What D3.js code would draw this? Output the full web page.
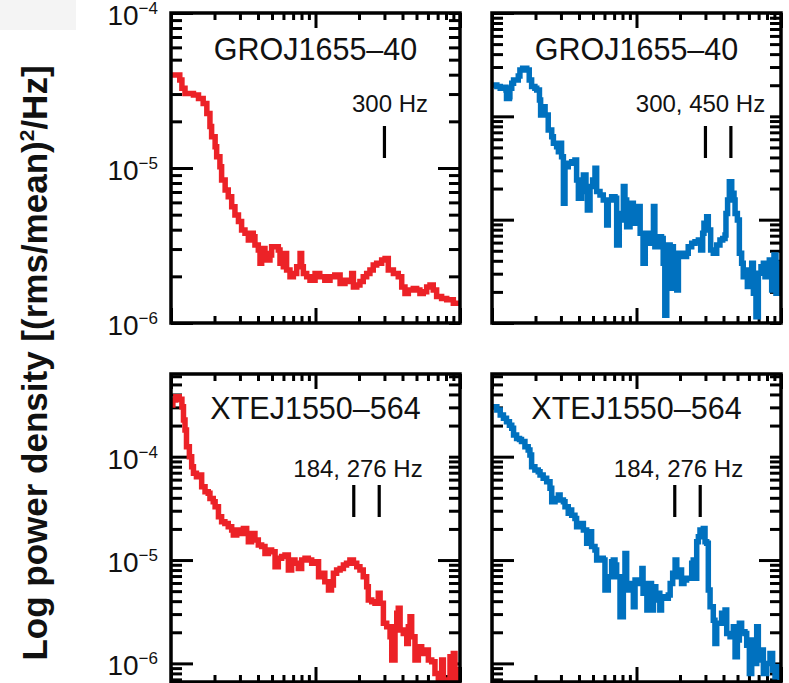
<!DOCTYPE html>
<html>
<head>
<meta charset="utf-8">
<script src="https://cdn.jsdelivr.net/npm/d3@7"></script>
<style>
  html, body { margin: 0; padding: 0; background: #fff; }
  svg { display: block; }
  text { font-family: "Liberation Sans", Arial, Helvetica, sans-serif; fill: #111; }
</style>
</head>
<body>
<svg id="fig" width="789" height="683"></svg>
<script>
// Power density spectra: frequency (Hz) and power density ((rms/mean)^2/Hz)

// GRO J1655-40, softer state (red)
const groRedFreq = [10.0, 11.5, 11.9, 12.5, 14.3, 15.5, 16.7, 17.7, 18.6, 19.1, 20.2, 20.7, 21.8, 22.4, 23.7, 24.9, 26.3, 27.7, 29.3, 30.8, 32.5, 34.3, 35.2, 37.1, 38.1, 40.2, 41.3, 42.4, 44.7, 45.9, 48.4, 49.7, 52.5, 55.3, 56.8, 59.9, 61.5, 63.1, 66.6, 70.3, 74.1, 78.2, 80.2, 82.4, 86.9, 91.6, 99.3, 107, 116, 126, 136, 148, 160, 169, 178, 183, 193, 203, 214, 226, 238, 251, 265, 287, 303, 319, 346, 374, 395, 416, 439, 475, 501, 528, 557, 588, 620, 653, 689, 746, 809, 899, 1000];
const groRedPower = [3.98e-5, 3.70e-5, 3.27e-5, 3.03e-5, 2.96e-5, 2.81e-5, 2.61e-5, 2.25e-5, 1.85e-5, 1.59e-5, 1.37e-5, 1.18e-5, 1.02e-5, 8.37e-6, 7.22e-6, 6.53e-6, 5.63e-6, 4.98e-6, 4.51e-6, 3.98e-6, 3.79e-6, 3.43e-6, 3.79e-6, 3.60e-6, 3.18e-6, 2.96e-6, 2.43e-6, 3.03e-6, 2.81e-6, 2.55e-6, 2.75e-6, 3.10e-6, 3.10e-6, 2.96e-6, 2.43e-6, 2.31e-6, 2.81e-6, 2.20e-6, 1.99e-6, 2.09e-6, 2.31e-6, 2.81e-6, 2.31e-6, 2.09e-6, 1.99e-6, 1.89e-6, 2.09e-6, 1.99e-6, 1.89e-6, 1.99e-6, 2.04e-6, 1.80e-6, 1.89e-6, 1.85e-6, 2.09e-6, 1.71e-6, 1.76e-6, 1.85e-6, 1.99e-6, 2.09e-6, 2.20e-6, 2.37e-6, 2.43e-6, 2.55e-6, 2.61e-6, 2.20e-6, 2.09e-6, 1.99e-6, 1.71e-6, 1.55e-6, 1.63e-6, 1.67e-6, 1.63e-6, 1.55e-6, 1.59e-6, 1.71e-6, 1.76e-6, 1.63e-6, 1.48e-6, 1.44e-6, 1.41e-6, 1.34e-6, 1.34e-6];

// GRO J1655-40, harder state (blue)
const groBlueFreq = [10.0, 10.8, 11.4, 12.0, 12.5, 12.6, 13.2, 13.3, 13.7, 14.1, 14.8, 15.2, 15.6, 16.3, 17.4, 18.1, 18.8, 19.8, 20.4, 21.3, 21.7, 22.6, 23.3, 24.5, 25.9, 26.6, 28.0, 28.8, 29.6, 30.3, 31.2, 32.0, 33.7, 35.6, 37.5, 38.5, 39.6, 41.7, 42.9, 44.7, 45.7, 47.7, 49.7, 51.6, 53.0, 55.9, 58.9, 62.2, 63.8, 67.3, 71.0, 72.9, 76.0, 78.9, 81.1, 83.2, 85.5, 90.2, 95.1, 97.7, 100.3, 106, 111, 115, 121, 127, 131, 134, 142, 149, 153, 157, 162, 171, 175, 180, 190, 195, 200, 211, 222, 228, 241, 254, 268, 278, 287, 293, 306, 314, 326, 340, 359, 378, 395, 410, 416, 427, 439, 456, 473, 481, 499, 515, 534, 548, 570, 585, 610, 627, 644, 671, 697, 727, 755, 775, 796, 830, 862, 894, 923, 958, 985];
const groBluePower = [2.01e-4, 1.94e-4, 1.87e-4, 1.91e-4, 1.80e-4, 1.49e-4, 1.55e-4, 1.87e-4, 2.09e-4, 2.25e-4, 2.25e-4, 2.46e-4, 2.81e-4, 2.92e-4, 2.81e-4, 2.25e-4, 1.94e-4, 1.87e-4, 1.80e-4, 1.44e-4, 1.03e-4, 1.24e-4, 1.03e-4, 7.38e-5, 6.36e-5, 5.48e-5, 5.09e-5, 4.55e-5, 5.48e-5, 4.07e-5, 1.44e-5, 3.26e-5, 3.51e-5, 3.64e-5, 3.78e-5, 2.42e-5, 1.61e-5, 1.87e-5, 2.71e-5, 2.09e-5, 1.24e-5, 2.09e-5, 2.42e-5, 3.14e-5, 1.87e-5, 1.73e-5, 1.55e-5, 8.88e-6, 1.55e-5, 1.67e-5, 1.61e-5, 5.69e-6, 9.93e-6, 1.15e-5, 2.09e-5, 1.55e-5, 8.55e-6, 1.44e-5, 1.15e-5, 9.22e-6, 1.34e-5, 7.38e-6, 3.78e-6, 7.38e-6, 5.90e-6, 6.35e-6, 1.34e-5, 5.48e-6, 6.84e-6, 6.59e-6, 3.78e-6, 1.19e-6, 5.69e-6, 2.17e-6, 5.48e-6, 2.42e-6, 2.09e-6, 4.72e-6, 4.72e-6, 4.39e-6, 4.72e-6, 5.48e-6, 5.90e-6, 6.12e-6, 6.35e-6, 5.08e-6, 7.38e-6, 9.22e-6, 1.07e-5, 7.94e-6, 5.08e-6, 4.72e-6, 5.69e-6, 6.35e-6, 6.59e-6, 7.11e-6, 1.15e-5, 1.55e-5, 2.33e-5, 1.80e-5, 1.55e-5, 1.15e-5, 9.93e-6, 4.72e-6, 3.78e-6, 2.81e-6, 3.26e-6, 2.25e-6, 2.81e-6, 3.78e-6, 1.94e-6, 1.15e-6, 3.03e-6, 3.51e-6, 3.78e-6, 2.81e-6, 3.51e-6, 4.07e-6, 2.09e-6, 4.55e-6, 1.94e-6, 3.78e-6, 3.51e-6];

// XTE J1550-564, softer state (red)
const xteRedFreq = [10.0, 10.3, 10.8, 11.4, 11.9, 12.2, 12.5, 12.8, 13.4, 13.9, 14.3, 15.0, 15.7, 16.3, 17.2, 18.1, 18.6, 19.6, 20.2, 21.3, 22.4, 23.6, 24.9, 26.3, 27.0, 28.5, 30.0, 31.7, 33.4, 34.3, 36.1, 38.1, 40.2, 42.4, 44.7, 47.2, 49.7, 52.5, 55.3, 58.3, 61.5, 64.9, 68.4, 72.1, 76.0, 80.2, 84.6, 89.2, 94.1, 99.2, 105, 110, 116, 123, 129, 133, 140, 148, 156, 164, 173, 183, 193, 203, 214, 226, 232, 245, 258, 272, 280, 295, 311, 328, 337, 355, 365, 374, 385, 405, 428, 439, 451, 463, 488, 515, 543, 573, 604, 637, 671, 708, 747, 767, 800, 853, 899, 923, 958, 1000];
const xteRedPower = [3.16e-4, 3.53e-4, 3.81e-4, 3.59e-4, 3.05e-4, 2.26e-4, 1.81e-4, 1.25e-4, 1.00e-4, 8.00e-5, 6.90e-5, 6.40e-5, 6.65e-5, 5.13e-5, 4.58e-5, 4.42e-5, 3.95e-5, 3.67e-5, 3.28e-5, 2.63e-5, 2.35e-5, 2.26e-5, 2.10e-5, 1.95e-5, 1.75e-5, 1.95e-5, 1.81e-5, 2.02e-5, 1.81e-5, 1.50e-5, 1.81e-5, 1.56e-5, 1.40e-5, 1.35e-5, 1.16e-5, 1.25e-5, 1.20e-5, 8.62e-6, 1.04e-5, 1.08e-5, 1.12e-5, 8.00e-6, 1.00e-5, 9.29e-6, 8.30e-6, 1.00e-5, 1.04e-5, 1.00e-5, 9.29e-6, 9.63e-6, 6.90e-6, 7.43e-6, 6.17e-6, 5.13e-6, 5.73e-6, 7.43e-6, 8.00e-6, 8.30e-6, 8.95e-6, 9.29e-6, 1.00e-5, 9.29e-6, 8.62e-6, 8.00e-6, 6.90e-6, 5.52e-6, 4.10e-6, 3.95e-6, 3.81e-6, 4.76e-6, 3.81e-6, 2.44e-6, 2.26e-6, 1.81e-6, 1.08e-6, 2.26e-6, 3.05e-6, 3.41e-6, 2.10e-6, 1.95e-6, 1.56e-6, 2.26e-6, 2.83e-6, 1.81e-6, 1.08e-6, 1.45e-6, 1.25e-6, 1.35e-6, 1.08e-6, 1.04e-6, 8.00e-7, 6.90e-7, 1.08e-6, 6.90e-7, 5.1e-7, 1.16e-6, 1.25e-6, 5.1e-7, 8.62e-7, 5.1e-7];

// XTE J1550-564, harder state (blue)
const xteBlueFreq = [10.0, 10.8, 11.4, 12.0, 12.6, 13.2, 13.7, 14.1, 14.8, 15.5, 16.0, 16.9, 17.8, 18.3, 18.8, 19.8, 20.9, 21.5, 22.6, 23.9, 25.2, 25.9, 27.3, 28.8, 29.6, 31.2, 32.0, 33.7, 34.7, 35.6, 37.5, 38.5, 40.6, 42.9, 45.2, 47.7, 48.9, 51.6, 53.0, 55.9, 58.9, 60.5, 63.8, 67.3, 69.1, 71.0, 72.9, 76.9, 81.1, 83.2, 85.5, 90.2, 95.1, 97.7, 103, 109, 111, 118, 121, 127, 131, 136, 142, 145, 149, 157, 166, 171, 178, 185, 190, 200, 205, 213, 222, 234, 241, 247, 254, 261, 268, 275, 290, 298, 306, 314, 323, 340, 349, 359, 378, 388, 410, 421, 444, 468, 481, 499, 515, 534, 563, 579, 604, 627, 650, 679, 697, 723, 755, 796, 839, 875, 909, 943, 985];
const xteBluePower = [3.05e-4, 2.83e-4, 2.53e-4, 2.35e-4, 2.18e-4, 2.02e-4, 1.88e-4, 1.62e-4, 1.50e-4, 1.47e-4, 1.40e-4, 1.25e-4, 1.16e-4, 1.04e-4, 8.00e-5, 7.43e-5, 7.16e-5, 6.65e-5, 6.17e-5, 5.73e-5, 4.94e-5, 3.67e-5, 3.95e-5, 4.26e-5, 3.81e-5, 3.67e-5, 3.28e-5, 2.83e-5, 3.05e-5, 2.72e-5, 2.53e-5, 2.10e-5, 2.26e-5, 1.95e-5, 1.45e-5, 1.88e-5, 1.35e-5, 1.25e-5, 1.00e-5, 1.04e-5, 1.00e-5, 5.13e-6, 6.90e-6, 9.63e-6, 1.00e-5, 8.95e-6, 6.90e-6, 2.83e-6, 5.52e-6, 1.16e-5, 5.13e-6, 5.94e-6, 3.53e-6, 6.40e-6, 5.94e-6, 8.30e-6, 4.76e-6, 3.28e-6, 5.94e-6, 3.28e-6, 5.52e-6, 4.10e-6, 4.76e-6, 3.28e-6, 4.42e-6, 4.26e-6, 4.58e-6, 5.94e-6, 7.43e-6, 1.00e-5, 6.90e-6, 8.00e-6, 5.94e-6, 6.40e-6, 6.65e-6, 6.65e-6, 9.29e-6, 1.00e-5, 6.65e-6, 1.50e-5, 1.68e-5, 1.95e-5, 2.02e-5, 1.50e-5, 1.45e-5, 5.13e-6, 3.53e-6, 2.62e-6, 1.56e-6, 2.44e-6, 2.44e-6, 3.05e-6, 3.28e-6, 1.95e-6, 1.81e-6, 2.26e-6, 1.16e-6, 1.68e-6, 2.44e-6, 2.02e-6, 1.95e-6, 1.50e-6, 8.00e-7, 1.68e-6, 1.00e-6, 2.26e-6, 1.08e-6, 1.35e-6, 8.00e-7, 1.00e-6, 1.25e-6, 8.62e-7, 7.43e-7, 9.29e-7, 6.90e-7];

// QPO frequencies marked in each panel (Hz)
const groRedQpo = [300];
const groBlueQpo = [300, 450];
const xteRedQpo = [184, 276];
const xteBlueQpo = [184, 276];

// Titles, annotations and tick labels
const sourceNames = ["GROJ1655\u201340", "GROJ1655\u201340", "XTEJ1550\u2013564", "XTEJ1550\u2013564"];
const qpoLabels = ["300 Hz", "300, 450 Hz", "184, 276 Hz", "184, 276 Hz"];
const labelledExponents = [-4, -5, -6];
const yAxisTitle = ["Log power density [(rms/mean)", "2", "/Hz]"];

const freqDomain = [10, 1000];
const RED = "#ec2227", BLUE = "#0071bf";

const svg = d3.select("#fig");
svg.append("rect").attr("x", 0).attr("y", 0).attr("width", 76).attr("height", 30).attr("fill", "#f4f4f4");

const panels = [
  { x0: 171, x1: 460, y0: 13,  y1: 323, yDomain: [1e-6, 1e-4], freq: groRedFreq,  power: groRedPower,  color: RED,  qpo: groRedQpo,  name: sourceNames[0], note: qpoLabels[0], noteX: 219,   noteY: 99,  markY: 113, titleY: 47, labels: true },
  { x0: 492, x1: 781, y0: 13,  y1: 323, yDomain: [1e-6, 1e-3], freq: groBlueFreq, power: groBluePower, color: BLUE, qpo: groBlueQpo, name: sourceNames[1], note: qpoLabels[1], noteX: 208.5, noteY: 99,  markY: 113, titleY: 47, labels: false },
  { x0: 171, x1: 460, y0: 374, y1: 682, yDomain: [Math.pow(10, -6.18), Math.pow(10, -3.2)], freq: xteRedFreq,  power: xteRedPower,  color: RED,  qpo: xteRedQpo,  name: sourceNames[2], note: qpoLabels[2], noteX: 187,   noteY: 103, markY: 111, titleY: 45, labels: true },
  { x0: 492, x1: 781, y0: 374, y1: 682, yDomain: [Math.pow(10, -6.18), Math.pow(10, -3.2)], freq: xteBlueFreq, power: xteBluePower, color: BLUE, qpo: xteBlueQpo, name: sourceNames[3], note: qpoLabels[3], noteX: 186.5, noteY: 103, markY: 111, titleY: 45, labels: false }
];

const isDecade = v => Math.abs(Math.log10(v) - Math.round(Math.log10(v))) < 1e-6;

function tickGroup(g, axis, cls) {
  const a = g.append("g").attr("class", cls).call(axis);
  a.select(".domain").remove();
  a.selectAll("line").attr("stroke", "#000").attr("stroke-width", 3);
  a.selectAll("text").remove();
  return a;
}

panels.forEach((p, i) => {
  const g = svg.append("g");
  const x = d3.scaleLog().domain(freqDomain).range([p.x0, p.x1]);
  const y = d3.scaleLog().domain(p.yDomain).range([p.y1, p.y0]);

  const xt = x.ticks();
  const xMajor = xt.filter(isDecade), xMinor = xt.filter(v => !isDecade(v));
  const yt = y.ticks();
  const yMajor = yt.filter(isDecade), yMinor = yt.filter(v => !isDecade(v));
  const yRightMajor = yMajor.filter(v => Math.round(Math.log10(v)) === -5);
  const yRightMinor = yMinor.concat(yMajor.filter(v => Math.round(Math.log10(v)) !== -5));

  // inward ticks on all four sides
  tickGroup(g.append("g").attr("transform", `translate(0,${p.y1})`), d3.axisBottom(x).tickValues(xMajor).tickSize(-15), "xb");
  tickGroup(g.append("g").attr("transform", `translate(0,${p.y1})`), d3.axisBottom(x).tickValues(xMinor).tickSize(-7), "xb");
  tickGroup(g.append("g").attr("transform", `translate(0,${p.y0})`), d3.axisTop(x).tickValues(xMajor).tickSize(-15), "xt");
  tickGroup(g.append("g").attr("transform", `translate(0,${p.y0})`), d3.axisTop(x).tickValues(xMinor).tickSize(-7), "xt");
  tickGroup(g.append("g").attr("transform", `translate(${p.x0},0)`), d3.axisLeft(y).tickValues(yMajor).tickSize(-22), "yl");
  tickGroup(g.append("g").attr("transform", `translate(${p.x0},0)`), d3.axisLeft(y).tickValues(yMinor).tickSize(-11), "yl");
  tickGroup(g.append("g").attr("transform", `translate(${p.x1},0)`), d3.axisRight(y).tickValues(yRightMajor).tickSize(-22), "yr");
  tickGroup(g.append("g").attr("transform", `translate(${p.x1},0)`), d3.axisRight(y).tickValues(yRightMinor).tickSize(-11), "yr");

  // spectrum
  const clipId = "clip" + i;
  svg.append("clipPath").attr("id", clipId).append("rect")
    .attr("x", p.x0).attr("y", p.y0).attr("width", p.x1 - p.x0).attr("height", p.y1 - p.y0);
  const pts = d3.zip(p.freq, p.power);
  const line = d3.line().x(d => x(d[0])).y(d => y(d[1])).curve(d3.curveStepAfter);
  g.append("path").datum(pts)
    .attr("clip-path", `url(#${clipId})`)
    .attr("fill", "none").attr("stroke", p.color).attr("stroke-width", 5.5)
    .attr("stroke-linejoin", "miter").attr("d", line);

  // frame
  g.append("rect").attr("x", p.x0).attr("y", p.y0)
    .attr("width", p.x1 - p.x0).attr("height", p.y1 - p.y0)
    .attr("fill", "none").attr("stroke", "#000").attr("stroke-width", 3.5);

  // QPO markers
  g.selectAll("line.qpo").data(p.qpo).join("line").attr("class", "qpo")
    .attr("x1", d => x(d)).attr("x2", d => x(d))
    .attr("y1", p.y0 + p.markY).attr("y2", p.y0 + p.markY + 32)
    .attr("stroke", "#000").attr("stroke-width", 3.2);

  g.append("text").attr("x", p.x0 + p.noteX).attr("y", p.y0 + p.noteY)
    .attr("text-anchor", "middle").attr("font-size", 24).text(p.note);

  g.append("text").attr("x", (p.x0 + p.x1) / 2).attr("y", p.y0 + p.titleY)
    .attr("text-anchor", "middle").attr("font-size", 30.5).text(p.name);

  // decade labels on the left column
  if (p.labels) {
    labelledExponents.forEach(e => {
      const t = g.append("text").attr("x", 158).attr("y", y(Math.pow(10, e)) + 12)
        .attr("text-anchor", "end").attr("font-size", 28);
      t.append("tspan").text("10");
      t.append("tspan").attr("font-size", 17).attr("dy", -11).text("\u2212" + Math.abs(e));
    });
  }
});

// y-axis title
const yt = svg.append("text").attr("transform", "translate(47,363) rotate(-90)")
  .attr("text-anchor", "middle").attr("font-size", 35).attr("font-weight", "bold");
yt.append("tspan").text(yAxisTitle[0]);
yt.append("tspan").attr("font-size", 21).attr("dy", -13).text(yAxisTitle[1]);
yt.append("tspan").attr("dy", 13).text(yAxisTitle[2]);
</script>
</body>
</html>
